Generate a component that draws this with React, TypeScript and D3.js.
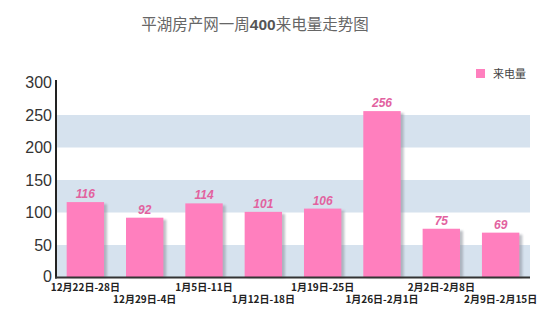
import React from "react";
import * as d3 from "d3";

const categories = [
  "12月22日-28日",
  "12月29日-4日",
  "1月5日-11日",
  "1月12日-18日",
  "1月19日-25日",
  "1月26日-2月1日",
  "2月2日-2月8日",
  "2月9日-2月15日",
];
const values = [116, 92, 114, 101, 106, 256, 75, 69];
const yTicks = [0, 50, 100, 150, 200, 250, 300];
const bands: [number, number][] = [
  [0, 50],
  [100, 150],
  [200, 250],
];

const W = 550;
const H = 321;
const left = 56;
const right = 530;
const top = 82.5;
const bottom = 277.5;

export default function App() {
  const x = d3.scaleBand<string>().domain(categories).range([left, right]).paddingInner(0.37).paddingOuter(0.18);
  const y = d3.scaleLinear().domain([0, 300]).range([bottom, top]);
  const bw = x.bandwidth();
  return (
    <svg width={W} height={H} style={{ position: "absolute", left: 0, top: 0, background: "#fff" }}>
      <defs>
        <filter id="sh" x="-20%" y="-20%" width="160%" height="140%">
          <feGaussianBlur stdDeviation="1.2" />
        </filter>
      </defs>
      <text x={255} y={30} textAnchor="middle" fontFamily="'Noto Sans CJK SC', sans-serif" fontSize={15.5} fill="#666">
        平湖房产网一周<tspan fontWeight="bold" fontFamily="'Liberation Sans', Arial, sans-serif" fill="#555">400</tspan>来电量走势图
      </text>
      {bands.map(([a, b], i) => (
        <rect key={i} x={left} y={y(b)} width={right - left} height={y(a) - y(b)} fill="#d6e2ee" />
      ))}
      {categories.map((c, i) => (
        <rect key={"s" + i} x={(x(c) as number) + 3} y={y(values[i]) + 2} width={bw} height={bottom - y(values[i]) - 2} fill="#8a8f99" opacity={0.55} filter="url(#sh)" />
      ))}
      {categories.map((c, i) => (
        <rect key={"b" + i} x={x(c)} y={y(values[i])} width={bw} height={bottom - y(values[i])} fill="#ff7fbe" />
      ))}
      {categories.map((c, i) => (
        <text key={"v" + i} x={(x(c) as number) + bw / 2} y={y(values[i]) - 4} textAnchor="middle" fontFamily="'Liberation Sans', Arial, sans-serif" fontSize={12} fontWeight="bold" fontStyle="italic" fill="#e2629f">
          {values[i]}
        </text>
      ))}
      <line x1={left} x2={left} y1={80} y2={bottom + 1} stroke="#222" strokeWidth={2} />
      <line x1={left - 1} x2={right} y1={bottom} y2={bottom} stroke="#333" strokeWidth={2} />
      {yTicks.map((t) => (
        <text key={t} x={52} y={y(t) + 5.5 - (t === 0 ? 1 : 0)} textAnchor="end" fontFamily="'Liberation Sans', Arial, sans-serif" fontSize={16} fill="#333">
          {t}
        </text>
      ))}
      {categories.map((c, i) => (
        <text key={"c" + i} x={(x(c) as number) + bw / 2} y={i % 2 === 0 ? 291 : 303} textAnchor="middle" fontFamily="'Noto Sans CJK SC', sans-serif" fontSize={10} fontWeight="bold" fill="#222">
          {c}
        </text>
      ))}
      <rect x={476} y={69} width={9} height={9} fill="#ff7fbe" />
      <text x={493} y={78} fontFamily="'Noto Sans CJK SC', sans-serif" fontSize={11} fill="#444">来电量</text>
    </svg>
  );
}
